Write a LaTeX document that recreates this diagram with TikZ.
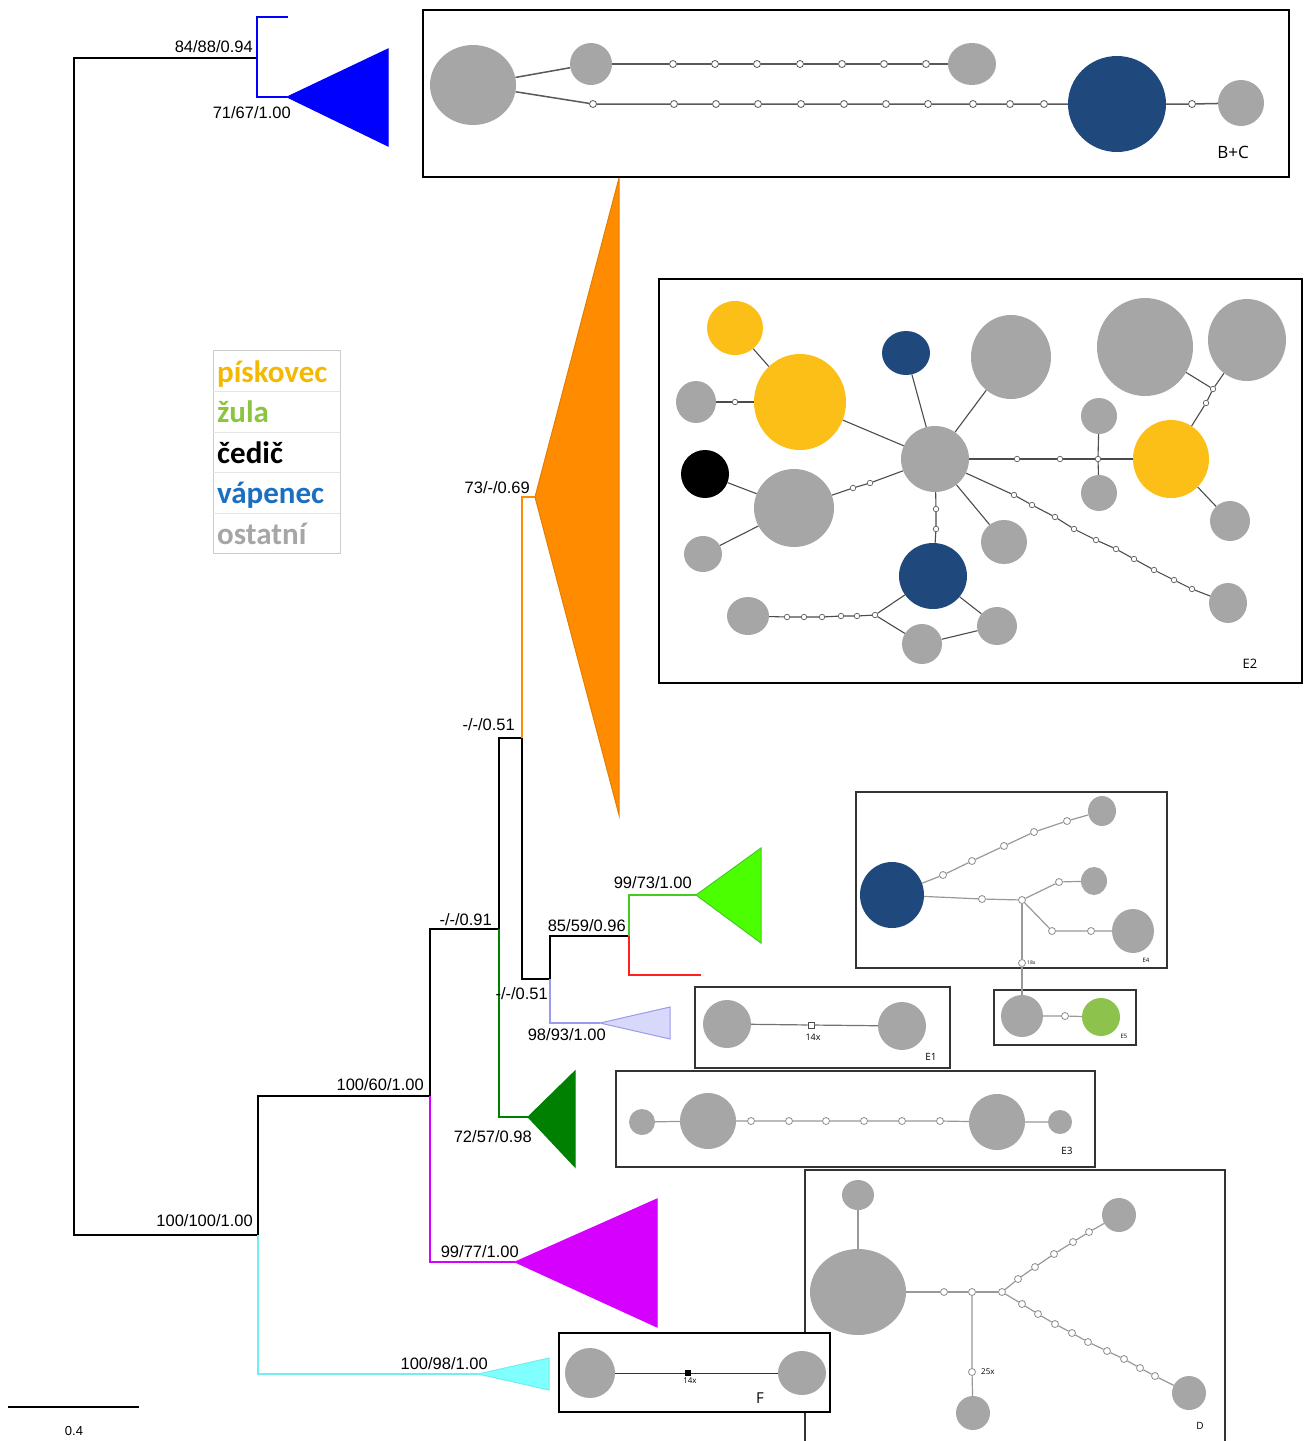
\documentclass[tikz,border=0pt]{standalone}
\usepackage{fontspec}
\setmainfont{Liberation Sans}
\newfontfamily\legfont{Carlito}
\newfontfamily\netfont{Open Sans}
\usetikzlibrary{shapes.geometric}
\definecolor{hgray}{HTML}{A6A6A6}
\definecolor{hblue}{HTML}{1F497D}
\definecolor{hyel}{HTML}{FBBF17}
\definecolor{hgreen}{HTML}{8DC24C}
\definecolor{corange}{HTML}{FF8C00}
\definecolor{cblue}{HTML}{0000FF}
\definecolor{cbright}{HTML}{4CFF00}
\definecolor{cbrightline}{HTML}{44CC22}
\definecolor{cred}{HTML}{FF2020}
\definecolor{clav}{HTML}{D8D8FA}
\definecolor{clavline}{HTML}{9A9AEE}
\definecolor{cdkgreen}{HTML}{008000}
\definecolor{cmag}{HTML}{D600FF}
\definecolor{ccyan}{HTML}{80FFFF}
\definecolor{ccyanline}{HTML}{6FEFEF}
\definecolor{lyel}{HTML}{F5B800}
\definecolor{lgreen}{HTML}{8BC540}
\definecolor{lblue}{HTML}{1B6FC0}
\definecolor{lgray}{HTML}{A6A6A6}
\begin{document}
\begin{tikzpicture}[x=1pt,y=-1pt,
  tree/.style={line width=1.6pt, line join=miter},
  lab/.style={inner sep=0pt, anchor=base east, font=\fontsize{16.5}{18}\selectfont},
  hap/.style 2 args={ellipse, draw=none, inner sep=0pt, minimum width=#1*2pt, minimum height=#2*2pt},
  gh/.style 2 args={hap={#1}{#2}, fill=hgray},
  bh/.style 2 args={hap={#1}{#2}, fill=hblue},
  yh/.style 2 args={hap={#1}{#2}, fill=hyel},
  kh/.style 2 args={hap={#1}{#2}, fill=black},
  grh/.style 2 args={hap={#1}{#2}, fill=hgreen},
  mutA/.style={circle, draw=black!65, fill=white, inner sep=0pt, minimum size=7pt, line width=0.8pt},
  mutB/.style={circle, draw=black!65, fill=white, inner sep=0pt, minimum size=5.5pt, line width=0.7pt},
  mutC/.style={circle, draw=black!45, fill=white, inner sep=0pt, minimum size=7pt, line width=0.8pt},
  netA/.style={draw=black!65, line width=1.5pt},
  netB/.style={draw=black!70, line width=1.1pt},
  netC/.style={draw=black!40, line width=1.2pt},
  bigbox/.style={draw=black, line width=2.8pt, fill=white},
  smallbox/.style={draw=black!80, line width=1.8pt, fill=white},
  nettext/.style={inner sep=0pt, font=\netfont\fontsize{#1}{#1}\selectfont}
]
\useasboundingbox (0,0) rectangle (1304,1441);
\fill[white] (0,0) rectangle (1304,1441);

% ---------------- tree ----------------
\coordinate (root) at (74,646);
\coordinate (nBC) at (257,58);
\coordinate (bcTip) at (288,17);
\coordinate (bcA) at (287,97);
\coordinate (nIn) at (258,1235);
\coordinate (cyA) at (478,1374);
\coordinate (nA) at (430,1096);
\coordinate (mgA) at (515,1262);
\coordinate (nB) at (499,929);
\coordinate (dgA) at (528,1117);
\coordinate (nC) at (522,738);
\coordinate (orA) at (535,497);
\coordinate (nD) at (550,979);
\coordinate (lvA) at (600,1023);
\coordinate (nE) at (629,936);
\coordinate (bgA) at (696,895);
\coordinate (redT) at (701,975);

\draw[tree] (nBC) -| (root) |- (nIn);
\draw[tree, cblue] (bcTip) -| (nBC) |- (bcA);
\draw[tree] (nA) -| (nIn);
\draw[tree, ccyanline] (nIn) |- (cyA);
\draw[tree] (nB) -| (nA);
\draw[tree, cmag] (nA) |- (mgA);
\draw[tree] (nC) -| (nB);
\draw[tree, cdkgreen] (nB) |- (dgA);
\draw[tree, corange] (nC) |- (orA);
\draw[tree] (nC) |- (nD);
\draw[tree] (nE) -| (nD);
\draw[tree, clavline] (nD) |- (lvA);
\draw[tree, cbrightline] (nE) |- (bgA);
\draw[tree, cred] (nE) |- (redT);

% collapsed clades
\filldraw[fill=cblue, draw=cblue, line width=1pt] (bcA) -- ++(101,-48) -- ++(0,97) -- cycle;
\filldraw[fill=corange, draw=corange!90!black, line width=1pt] (orA) -- ++(84,-319) -- ++(0,637) -- cycle;
\filldraw[fill=cbright, draw=cbrightline, line width=1pt] (bgA) -- ++(65,-47) -- ++(0,95) -- cycle;
\filldraw[fill=clav, draw=clavline, line width=1pt] (lvA) -- ++(70,-16) -- ++(0,32) -- cycle;
\filldraw[fill=cdkgreen, draw=cdkgreen, line width=1pt] (dgA) -- ++(47,-46) -- ++(0,96) -- cycle;
\filldraw[fill=cmag, draw=cmag, line width=1pt] (mgA) -- ++(142,-63) -- ++(0,128) -- cycle;
\filldraw[fill=ccyan, draw=ccyanline, line width=1pt] (cyA) -- ++(71,-16) -- ++(0,32) -- cycle;

% support labels
\node[lab] (s1) at (253,52) {84/88/0.94};
\node[lab] (s2) at (291,118) {71/67/1.00};
\node[lab] (s3) at (530,493) {73/-/0.69};
\node[lab] (s4) at (515,730) {-/-/0.51};
\node[lab] (s5) at (692,888) {99/73/1.00};
\node[lab] (s6) at (492,925) {-/-/0.91};
\node[lab] (s7) at (626,931) {85/59/0.96};
\node[lab] (s8) at (548,999) {-/-/0.51};
\node[lab] (s9) at (606,1040) {98/93/1.00};
\node[lab] (s10) at (424,1090) {100/60/1.00};
\node[lab] (s11) at (532,1142) {72/57/0.98};
\node[lab] (s12) at (253,1226) {100/100/1.00};
\node[lab] (s13) at (519,1257) {99/77/1.00};
\node[lab] (s14) at (488,1369) {100/98/1.00};

% scale bar
\coordinate (sb0) at (8,1407);
\coordinate (sb1) at (139,1407);
\draw[line width=1.5pt] (sb0) -- (sb1);
\node[inner sep=0pt, anchor=base, font=\fontsize{13}{14}\selectfont] (sbl) at (74,1435) {0.4};

% legend
\draw[black!20, line width=0.8pt] (213,350) rectangle (340,553);
\foreach \yy in {391,432,472,513} \draw[black!10, line width=0.8pt] (213,\yy) -- (340,\yy);
\begin{scope}[every node/.style={inner sep=0pt, anchor=base west, font=\legfont\bfseries\fontsize{31}{31}\selectfont}]
\node[text=lyel] (leg1) at (217,382) {pískovec};
\node[text=lgreen] (leg2) at (217,422) {žula};
\node[text=black] (leg3) at (217,463) {čedič};
\node[text=lblue] (leg4) at (217,503) {vápenec};
\node[text=lgray] (leg5) at (217,544) {ostatní};
\end{scope}

% ---------------- boxes ----------------
\draw[bigbox] (423,10) rectangle (1289,177);
\draw[bigbox] (659,279) rectangle (1302,683);
\draw[smallbox] (856,792) rectangle (1167,968);
\draw[smallbox] (994,990) rectangle (1136,1045);
\draw[smallbox] (695,987) rectangle (950,1068);
\draw[smallbox] (616,1071) rectangle (1095,1167);
\filldraw[smallbox] (805,1445) -- (805,1170) -- (1225,1170) -- (1225,1445);
\draw[bigbox] (559,1333) rectangle (830,1412);

% ---------------- B+C network ----------------
\node[gh={43}{40}] (bc1) at (473,85) {};
\node[gh={21}{21}] (bc2) at (591,64) {};
\node[gh={24}{21}] (bc3) at (972,64) {};
\node[bh={49}{48}] (bc4) at (1117,104) {};
\node[gh={23}{23}] (bc5) at (1241,103) {};
\foreach \xx [count=\i] in {673,715,757,800,842,884,926}
  \node[mutA] (bct\i) at (\xx,64) {};
\foreach \xx [count=\i] in {593,674,716,758,801,844,886,928,973,1010,1044}
  \node[mutA] (bcb\i) at (\xx,104) {};
\node[mutA] (bcm) at (1192,104) {};
\draw[netA] (bc1) -- (bc2);
\draw[netA] (bc2) -- (bct1) -- (bct2) -- (bct3) -- (bct4) -- (bct5) -- (bct6) -- (bct7) -- (bc3);
\draw[netA] (bc1) -- (bcb1) -- (bcb2) -- (bcb3) -- (bcb4) -- (bcb5) -- (bcb6) -- (bcb7) -- (bcb8) -- (bcb9) -- (bcb10) -- (bcb11) -- (bc4) -- (bcm) -- (bc5);
\node[nettext=17] (bcl) at (1233,152) {B+C};

% ---------------- E2 network ----------------
\node[yh={28}{27}] (ya) at (735,328) {};
\node[yh={46}{48}] (yb) at (800,402) {};
\node[gh={20}{21}] (g1) at (696,402) {};
\node[mutB] (m1) at (735,402) {};
\node[kh={24}{24}] (kk) at (705,474) {};
\node[gh={40}{39}] (g2) at (794,508) {};
\node[gh={19}{18}] (g3) at (703,554) {};
\node[bh={24}{22}] (b1) at (906,353) {};
\node[gh={40}{42}] (g4) at (1011,357) {};
\node[gh={34}{33}] (cc) at (935,459) {};
\node[gh={48}{49}] (g5) at (1145,347) {};
\node[gh={39}{41}] (g6) at (1247,340) {};
\node[gh={18}{18}] (g7) at (1099,416) {};
\node[gh={18}{18}] (g8) at (1099,493) {};
\node[yh={38}{39}] (yc) at (1171,459) {};
\node[gh={20}{20}] (g9) at (1230,521) {};
\node[gh={23}{22}] (g10) at (1004,542) {};
\node[bh={34}{33}] (b2) at (933,576) {};
\node[gh={21}{19}] (g11) at (748,616) {};
\node[gh={20}{19}] (g12) at (997,626) {};
\node[gh={20}{20}] (g13) at (922,644) {};
\node[gh={19}{20}] (g14) at (1228,603) {};
\node[mutB] (ma1) at (853,488) {};
\node[mutB] (ma2) at (870,483) {};
\node[mutB] (mr1) at (1017,459) {};
\node[mutB] (mr2) at (1060,459) {};
\node[mutB] (mrj) at (1098,459) {};
\node[mutB] (mn1) at (1213,389) {};
\node[mutB] (mn2) at (1206,403) {};
\node[mutB] (mv1) at (936,509) {};
\node[mutB] (mv2) at (936,529) {};
\foreach \xx/\yy [count=\i] in {1014/495,1032/505,1055/517,1074/529,1096/540,1116/549,1134/559,1154/570,1174/580,1192/589}
  \node[mutB] (md\i) at (\xx,\yy) {};
\foreach \xx/\yy [count=\i] in {787/617,804/617,822/617,841/616,857/616,875/615}
  \node[mutB] (ml\i) at (\xx,\yy) {};
\draw[netB] (ya) -- (yb);
\draw[netB] (g1) -- (m1) -- (yb);
\draw[netB] (yb) -- (cc);
\draw[netB] (kk) -- (g2);
\draw[netB] (g3) -- (g2);
\draw[netB] (g2) -- (ma1) -- (ma2) -- (cc);
\draw[netB] (b1) -- (cc);
\draw[netB] (g4) -- (cc);
\draw[netB] (cc) -- (mr1) -- (mr2) -- (mrj) -- (yc);
\draw[netB] (g7) -- (mrj) -- (g8);
\draw[netB] (g5) -- (mn1);
\draw[netB] (g6) -- (mn1) -- (mn2) -- (yc);
\draw[netB] (yc) -- (g9);
\draw[netB] (cc) -- (g10);
\draw[netB] (cc) -- (md1) -- (md2) -- (md3) -- (md4) -- (md5) -- (md6) -- (md7) -- (md8) -- (md9) -- (md10) -- (g14);
\draw[netB] (cc) -- (mv1) -- (mv2) -- (b2);
\draw[netB] (b2) -- (g12);
\draw[netB] (g11) -- (ml1) -- (ml2) -- (ml3) -- (ml4) -- (ml5) -- (ml6);
\draw[netB] (b2) -- (ml6) -- (g13) -- (g12);
\node[nettext=13] (e2l) at (1250,664) {E2};

% ---------------- E4 / E5 network ----------------
\node[bh={32}{33}] (e4b) at (892,895) {};
\node[gh={14}{15}] (e4a) at (1102,811) {};
\node[gh={13}{14}] (e4c) at (1094,881) {};
\node[gh={21}{22}] (e4d) at (1133,931) {};
\foreach \xx/\yy [count=\i] in {943/875,972/861,1004/846,1034/832,1067/821}
  \node[mutC] (eu\i) at (\xx,\yy) {};
\node[mutC] (em1) at (982,899) {};
\node[mutC] (ej) at (1022,900) {};
\node[mutC] (ec1) at (1059,882) {};
\node[mutC] (ed1) at (1052,931) {};
\node[mutC] (ed2) at (1091,931) {};
\node[mutC] (e18) at (1022,963) {};
\node[gh={21}{21}] (e5a) at (1022,1016) {};
\node[mutC] (e5m) at (1065,1016) {};
\node[grh={19}{19}] (e5b) at (1101,1017) {};
\draw[netC] (e4b) -- (eu1) -- (eu2) -- (eu3) -- (eu4) -- (eu5) -- (e4a);
\draw[netC] (e4b) -- (em1) -- (ej);
\draw[netC] (ej) -- (ec1) -- (e4c);
\draw[netC] (ej) -- (ed1) -- (ed2) -- (e4d);
\draw[netC] (ej) -- (e18) -- (e5a);
\draw[netC] (e5a) -- (e5m) -- (e5b);
\node[nettext=5, anchor=west] (e18l) at (1027,963) {18x};
\node[nettext=6] (e4l) at (1146,960) {E4};
\node[nettext=6] (e5l) at (1124,1036) {E5};

% ---------------- E1 network ----------------
\node[gh={24}{24}] (e1a) at (727,1024) {};
\node[gh={24}{24}] (e1b) at (902,1026) {};
\node[rectangle, draw=black!70, fill=white, inner sep=0pt, minimum size=6pt, line width=0.7pt] (e1m) at (811,1025) {};
\draw[netC, draw=black!55] (e1a) -- (e1m) -- (e1b);
\node[nettext=9] (e1x) at (813,1037) {14x};
\node[nettext=10] (e1l) at (931,1057) {E1};

% ---------------- E3 network ----------------
\node[gh={13}{13}] (e3a) at (642,1122) {};
\node[gh={28}{28}] (e3b) at (708,1121) {};
\node[gh={28}{28}] (e3c) at (997,1122) {};
\node[gh={12}{12}] (e3d) at (1060,1122) {};
\foreach \xx [count=\i] in {751,789,826,864,902,940}
  \node[mutC] (e3m\i) at (\xx,1121) {};
\draw[netC] (e3a) -- (e3b);
\draw[netC] (e3b) -- (e3m1) -- (e3m2) -- (e3m3) -- (e3m4) -- (e3m5) -- (e3m6) -- (e3c) -- (e3d);
\node[nettext=10] (e3l) at (1067,1151) {E3};

% ---------------- D network ----------------
\node[gh={16}{15}] (dtop) at (858,1195) {};
\node[gh={48}{43}] (dbig) at (858,1292) {};
\node[gh={17}{17}] (dbot) at (973,1413) {};
\node[gh={17}{17}] (dur) at (1119,1215) {};
\node[gh={17}{17}] (dlr) at (1189,1393) {};
\node[mutC] (dm1) at (944,1292) {};
\node[mutC] (dj1) at (972,1292) {};
\node[mutC] (dj2) at (1002,1292) {};
\node[mutC] (d25) at (972,1372) {};
\foreach \xx/\yy [count=\i] in {1018/1279,1035/1267,1054/1254,1073/1242,1089/1232}
  \node[mutC] (du\i) at (\xx,\yy) {};
\foreach \xx/\yy [count=\i] in {1022/1304,1038/1314,1055/1324,1072/1333,1088/1342,1107/1351,1124/1359,1140/1368,1155/1376}
  \node[mutC] (dl\i) at (\xx,\yy) {};
\draw[netC] (dtop) -- (dbig);
\draw[netC] (dbig) -- (dm1) -- (dj1) -- (dj2);
\draw[netC] (dj1) -- (d25) -- (dbot);
\draw[netC] (dj2) -- (du1) -- (du2) -- (du3) -- (du4) -- (du5) -- (dur);
\draw[netC] (dj2) -- (dl1) -- (dl2) -- (dl3) -- (dl4) -- (dl5) -- (dl6) -- (dl7) -- (dl8) -- (dl9) -- (dlr);
\node[nettext=8, anchor=west] (d25l) at (981,1372) {25x};
\node[nettext=10] (dl) at (1200,1426) {D};

% ---------------- F network ----------------
\node[gh={25}{25}] (fa) at (590,1373) {};
\node[gh={24}{22}] (fb) at (802,1373) {};
\node[rectangle, fill=black, inner sep=0pt, minimum size=6pt] (fm) at (688,1373) {};
\draw[netC, draw=black!80, line width=1pt] (fa) -- (fm) -- (fb);
\node[nettext=8] (fx) at (690,1381) {14x};
\node[nettext=15] (fl) at (760,1398) {F};
\end{tikzpicture}
\end{document}
